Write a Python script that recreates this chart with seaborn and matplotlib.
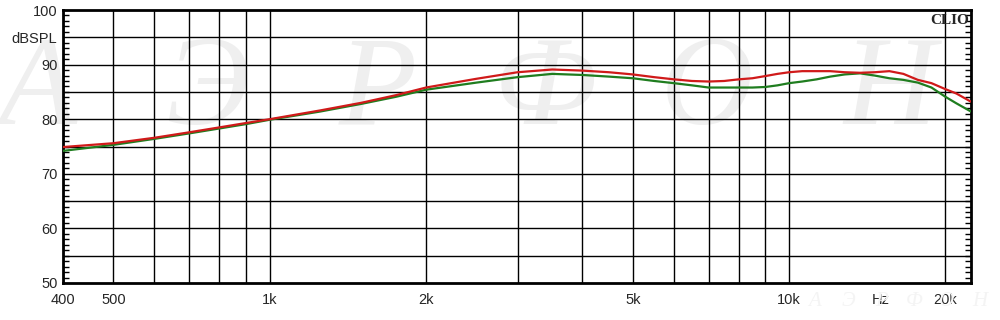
import matplotlib
matplotlib.use("Agg")
import matplotlib.pyplot as plt
import seaborn as sns
import numpy as np
import pandas as pd
from matplotlib.ticker import FixedLocator, NullFormatter

freqs = [400, 500, 600, 700, 800, 900, 1000, 1250, 1500, 1750, 2000, 2500, 3000,
         3500, 4000, 4500, 5000, 5500, 6000, 6500, 7000, 7500, 8000, 8500, 9000,
         9500, 10000, 10600, 11300, 12000, 12800, 13700, 14600, 15600, 16600,
         17700, 18800, 20000, 21000, 22400]
red_db = [74.9, 75.6, 76.6, 77.6, 78.5, 79.3, 80.0, 81.6, 83.0, 84.4, 85.8, 87.4,
          88.6, 89.1, 88.9, 88.6, 88.2, 87.7, 87.3, 87.0, 86.9, 87.0, 87.3, 87.5,
          87.9, 88.3, 88.6, 88.8, 88.8, 88.8, 88.6, 88.5, 88.6, 88.8, 88.3, 87.2,
          86.6, 85.5, 84.7, 83.2]
green_db = [74.2, 75.3, 76.4, 77.4, 78.3, 79.1, 79.9, 81.4, 82.8, 84.1, 85.4, 86.7,
            87.7, 88.3, 88.1, 87.8, 87.5, 87.0, 86.6, 86.2, 85.8, 85.8, 85.8, 85.8,
            85.9, 86.2, 86.6, 86.9, 87.3, 87.8, 88.2, 88.4, 88.0, 87.5, 87.2, 86.7,
            85.8, 84.1, 82.9, 81.4]

x_grid = [400, 500, 600, 700, 800, 900, 1000, 2000, 3000, 4000, 5000, 6000, 7000,
          8000, 9000, 10000, 20000]
x_labels = {400: "400", 500: "500", 1000: "1k", 2000: "2k", 5000: "5k",
            10000: "10k", 15000: "Hz", 20000: "20k"}
y_labels = {50: "50", 60: "60", 70: "70", 80: "80", 90: "90", 95: "dBSPL", 100: "100"}
watermark = ["А", "Э", "Р", "Ф", "О", "Н"]

sns.set_style("white")
plt.rcParams['font.family'] = ['Liberation Sans', 'DejaVu Sans']

fig = plt.figure(figsize=(10, 3.2), dpi=100)
ax = fig.add_axes([0.063, 37/320, 0.908, 273/320])

# watermark letters
wm_x = [38, 207, 378, 545, 707, 890]
for ch, px in zip(watermark, wm_x):
    ax.text(px / 1000, 1 - 124 / 320, ch, transform=fig.transFigure, fontsize=92,
            family='Liberation Serif', style='italic', color='#efefef',
            ha='center', va='baseline', zorder=0)
for i, ch in enumerate(watermark):
    fig.text((815 + i * 33) / 1000, 1 - 302 / 320, ch, fontsize=15,
             family='Liberation Serif', style='italic', color='#f4f4f4',
             ha='center', va='center', zorder=0)

df = pd.DataFrame({"freq": freqs + freqs,
                   "db": red_db + green_db,
                   "series": ["red"] * len(freqs) + ["green"] * len(freqs)})
sns.lineplot(data=df, x="freq", y="db", hue="series",
             palette={"red": "#d01a1a", "green": "#1f7d1f"},
             hue_order=["green", "red"], linewidth=1.6, legend=False, ax=ax,
             zorder=3)

ax.set_xscale("log")
ax.set_xlim(400, 22400)
ax.set_ylim(50, 100)

# grid lines
for xv in x_grid:
    ax.axvline(xv, color='black', linewidth=1.0, zorder=2)
for yv in range(55, 100, 5):
    ax.axhline(yv, color='black', linewidth=1.0, zorder=2)

ax.xaxis.set_major_locator(FixedLocator(list(x_labels.keys())))
ax.set_xticklabels(list(x_labels.values()))
ax.xaxis.set_minor_locator(FixedLocator([]))
ax.xaxis.set_minor_formatter(NullFormatter())
ax.tick_params(axis='x', which='both', length=0, pad=7, labelsize=10.5)

ax.yaxis.set_major_locator(FixedLocator(list(y_labels.keys())))
ax.set_yticklabels(list(y_labels.values()))
ax.yaxis.set_minor_locator(FixedLocator(list(range(50, 101))))
ax.tick_params(axis='y', which='major', length=0, pad=4, labelsize=10.5)
ax.tick_params(axis='y', which='minor', length=4, width=1, direction='in',
               left=True, right=True, color='black')

ax.set_xlabel("")
ax.set_ylabel("")
for s in ax.spines.values():
    s.set_visible(True)
    s.set_color('black')
    s.set_linewidth(2)

ax.text(0.998, 0.985, "CLIO", transform=ax.transAxes, ha='right', va='top',
        family='Liberation Serif', fontweight='bold', fontsize=11, zorder=5)

fig.savefig("out.png", dpi=100)
